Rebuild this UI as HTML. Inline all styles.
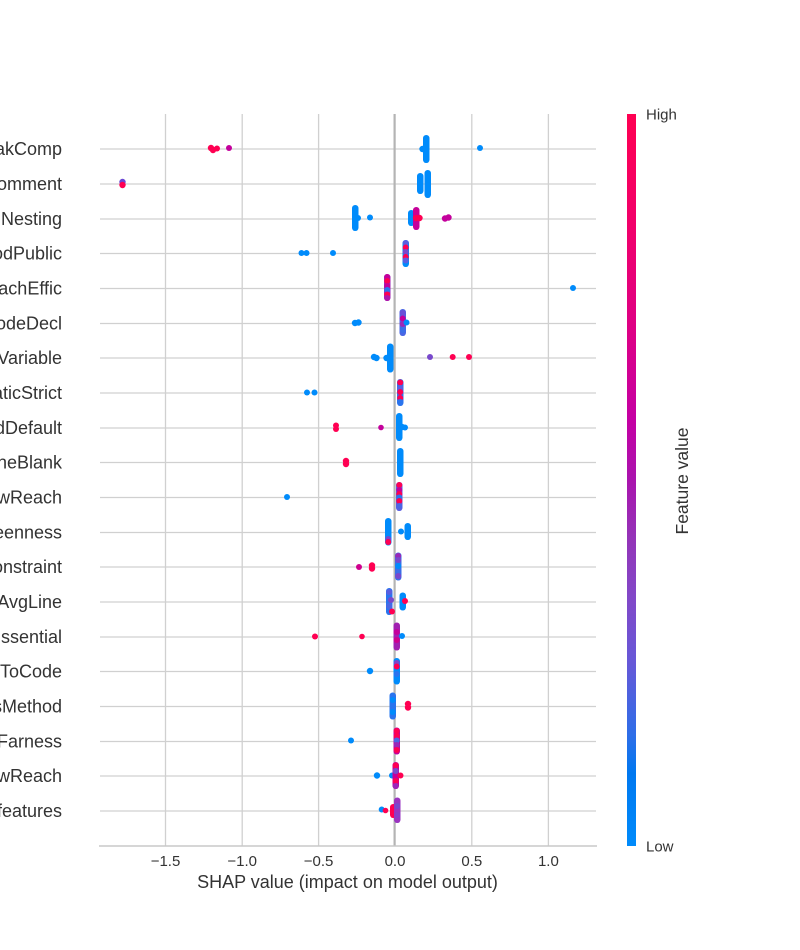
<!DOCTYPE html>
<html><head><meta charset="utf-8"><style>
html,body{margin:0;padding:0;background:#fff;}
svg{display:block;}
text{font-family:"Liberation Sans",Arial,sans-serif;fill:#333;}
</style></head><body>
<svg width="800" height="950" viewBox="0 0 800 950" xmlns="http://www.w3.org/2000/svg">
<defs>
<linearGradient id="cb" x1="0" y1="0" x2="0" y2="1">
<stop offset="0" stop-color="#ff0052"/>
<stop offset="0.15" stop-color="#f2006a"/>
<stop offset="0.3" stop-color="#dd0086"/>
<stop offset="0.42" stop-color="#c400a4"/>
<stop offset="0.5" stop-color="#aa14ae"/>
<stop offset="0.58" stop-color="#9434b8"/>
<stop offset="0.66" stop-color="#8248c8"/>
<stop offset="0.75" stop-color="#6658d8"/>
<stop offset="0.85" stop-color="#2d6ee8"/>
<stop offset="0.9" stop-color="#0078f0"/>
<stop offset="1" stop-color="#008bfb"/>
</linearGradient>
</defs>
<!-- vertical gridlines -->
<g stroke="#d0d0d0" stroke-width="1.3">
<line x1="165.5" y1="114" x2="165.5" y2="846"/>
<line x1="242.2" y1="114" x2="242.2" y2="846"/>
<line x1="318.6" y1="114" x2="318.6" y2="846"/>
<line x1="471.8" y1="114" x2="471.8" y2="846"/>
<line x1="548.4" y1="114" x2="548.4" y2="846"/>
</g>
<!-- horizontal row lines -->
<g stroke="#d0d0d0" stroke-width="1.3">
<line x1="100" y1="149" x2="596" y2="149"/>
<line x1="100" y1="184" x2="596" y2="184"/>
<line x1="100" y1="219" x2="596" y2="219"/>
<line x1="100" y1="253.5" x2="596" y2="253.5"/>
<line x1="100" y1="288.5" x2="596" y2="288.5"/>
<line x1="100" y1="323.5" x2="596" y2="323.5"/>
<line x1="100" y1="358" x2="596" y2="358"/>
<line x1="100" y1="393" x2="596" y2="393"/>
<line x1="100" y1="428" x2="596" y2="428"/>
<line x1="100" y1="462.5" x2="596" y2="462.5"/>
<line x1="100" y1="497.5" x2="596" y2="497.5"/>
<line x1="100" y1="532.5" x2="596" y2="532.5"/>
<line x1="100" y1="567" x2="596" y2="567"/>
<line x1="100" y1="602" x2="596" y2="602"/>
<line x1="100" y1="637" x2="596" y2="637"/>
<line x1="100" y1="671.5" x2="596" y2="671.5"/>
<line x1="100" y1="706.5" x2="596" y2="706.5"/>
<line x1="100" y1="741.5" x2="596" y2="741.5"/>
<line x1="100" y1="776" x2="596" y2="776"/>
<line x1="100" y1="811" x2="596" y2="811"/>
</g>
<!-- zero line -->
<line x1="394.6" y1="114" x2="394.6" y2="846" stroke="#b4b4b4" stroke-width="2.2"/>
<!-- bottom axis -->
<line x1="99" y1="846" x2="597" y2="846" stroke="#c8c8c8" stroke-width="1.6"/>

<!-- dots -->
<g>
<!-- row 0 -->
<circle cx="211" cy="148" r="3.2" fill="#ff0052"/>
<circle cx="213" cy="150" r="3.2" fill="#ff0052"/>
<circle cx="217" cy="148.5" r="3" fill="#ff0052"/>
<circle cx="229" cy="148" r="3" fill="#c4009c"/>
<rect x="423" y="135" width="6.5" height="28" rx="3.2" fill="#008bfb"/>
<circle cx="422.5" cy="149" r="3.2" fill="#008bfb"/>
<circle cx="480" cy="148" r="3" fill="#008bfb"/>
<!-- row 1 -->
<circle cx="122.5" cy="182" r="3.2" fill="#6a48d4"/>
<circle cx="122.5" cy="185" r="3.2" fill="#ff0052"/>
<rect x="417" y="173" width="6.5" height="21" rx="3.2" fill="#008bfb"/>
<rect x="424.5" y="170" width="6.5" height="28" rx="3.2" fill="#008bfb"/>
<!-- row 2 -->
<rect x="352" y="205" width="6.5" height="26" rx="3.2" fill="#008bfb"/>
<circle cx="358" cy="218" r="3" fill="#008bfb"/>
<circle cx="370" cy="217.5" r="3" fill="#008bfb"/>
<rect x="408" y="210" width="6.5" height="16" rx="3.2" fill="#008bfb"/>
<rect x="413" y="207" width="6.5" height="23" rx="3.2" fill="#c4009c"/>
<circle cx="416" cy="218" r="3.2" fill="#ff0052"/>
<circle cx="419.5" cy="218" r="3.2" fill="#ff0052"/>
<circle cx="416" cy="212" r="3" fill="#d0008e"/>
<circle cx="445" cy="218.5" r="3.2" fill="#c4009c"/>
<circle cx="448.5" cy="217.5" r="3.2" fill="#c4009c"/>
<!-- row 3 -->
<circle cx="301.5" cy="253" r="3" fill="#008bfb"/>
<circle cx="306.5" cy="253" r="3" fill="#008bfb"/>
<circle cx="333" cy="253" r="3" fill="#008bfb"/>
<rect x="402.5" y="240" width="6.5" height="27" rx="3.2" fill="#008bfb"/>
<circle cx="405.7" cy="243" r="3" fill="#5a5ee0"/>
<circle cx="405.7" cy="247.5" r="3" fill="#ff0052"/>
<circle cx="405.7" cy="252" r="3" fill="#7848cc"/>
<circle cx="405.7" cy="257" r="3" fill="#ff0052"/>
<circle cx="405.7" cy="260.5" r="3" fill="#5a5ee0"/>
<!-- row 4 -->
<rect x="384" y="274" width="6.5" height="27" rx="3.2" fill="#9a28b8"/>
<circle cx="387.2" cy="277" r="3" fill="#c4009c"/>
<circle cx="387.2" cy="281" r="3" fill="#ff0052"/>
<circle cx="387.2" cy="286" r="3" fill="#c4009c"/>
<circle cx="387.2" cy="290" r="3" fill="#2a74ee"/>
<circle cx="387.2" cy="294.5" r="3" fill="#ff0052"/>
<circle cx="387.2" cy="298" r="3" fill="#b014aa"/>
<circle cx="573" cy="288" r="3" fill="#008bfb"/>
<!-- row 5 -->
<circle cx="355" cy="323" r="3.2" fill="#008bfb"/>
<circle cx="358.5" cy="322.5" r="3.2" fill="#008bfb"/>
<rect x="399.5" y="309" width="6.5" height="27" rx="3.2" fill="#4a66e4"/>
<circle cx="402.7" cy="313" r="3" fill="#6a50d8"/>
<circle cx="402.7" cy="318.5" r="3" fill="#c4009c"/>
<circle cx="402.7" cy="324" r="3" fill="#9a28b8"/>
<circle cx="406.5" cy="322.5" r="3" fill="#008bfb"/>
<circle cx="402.7" cy="330" r="3" fill="#3a6ee8"/>
<!-- row 6 -->
<circle cx="374" cy="357" r="3.2" fill="#008bfb"/>
<circle cx="376.5" cy="358" r="3.2" fill="#008bfb"/>
<circle cx="386.5" cy="358" r="3.2" fill="#008bfb"/>
<rect x="387" y="343.5" width="6.5" height="29" rx="3.2" fill="#008bfb"/>
<circle cx="430" cy="357" r="3" fill="#7848cc"/>
<circle cx="452.7" cy="357" r="3" fill="#ff0052"/>
<circle cx="469" cy="357" r="3" fill="#ff0052"/>
<!-- row 7 -->
<circle cx="307" cy="392.5" r="3" fill="#008bfb"/>
<circle cx="314.5" cy="392.5" r="3" fill="#008bfb"/>
<rect x="397" y="379" width="6.5" height="27" rx="3.2" fill="#2a74ee"/>
<circle cx="400.2" cy="382.5" r="3" fill="#ff0052"/>
<circle cx="400.2" cy="388" r="3" fill="#5a5ee0"/>
<circle cx="400.2" cy="392" r="3" fill="#ff0052"/>
<circle cx="400.2" cy="398" r="3" fill="#ff0052"/>
<circle cx="400.2" cy="402" r="3" fill="#2a74ee"/>
<!-- row 8 -->
<circle cx="336" cy="425.5" r="3" fill="#ff0052"/>
<circle cx="336" cy="429" r="3" fill="#ff0052"/>
<circle cx="381" cy="427.5" r="2.8" fill="#c4009c"/>
<rect x="396" y="413" width="6.5" height="28" rx="3.2" fill="#008bfb"/>
<circle cx="402" cy="427" r="3.2" fill="#008bfb"/>
<circle cx="405" cy="427.5" r="3" fill="#008bfb"/>
<!-- row 9 -->
<circle cx="346" cy="461" r="3.2" fill="#ff0052"/>
<circle cx="346" cy="464" r="3.2" fill="#ff0052"/>
<rect x="397" y="448" width="6.5" height="29" rx="3.2" fill="#008bfb"/>
<!-- row 10 -->
<circle cx="287" cy="497" r="3" fill="#008bfb"/>
<rect x="396" y="482" width="6.5" height="29" rx="3.2" fill="#5a5ee0"/>
<circle cx="399.3" cy="485" r="3" fill="#ff0052"/>
<circle cx="399.3" cy="490" r="3" fill="#c4009c"/>
<circle cx="399.3" cy="494" r="3" fill="#ff0052"/>
<circle cx="399.3" cy="497.5" r="3" fill="#2a74ee"/>
<circle cx="399.3" cy="501" r="3" fill="#ff0052"/>
<circle cx="399.3" cy="506" r="3" fill="#4a66e4"/>
<!-- row 11 -->
<rect x="385" y="518" width="6.5" height="27.5" rx="3.2" fill="#008bfb"/>
<circle cx="388.2" cy="539" r="3" fill="#7848cc"/>
<circle cx="388.2" cy="542" r="3" fill="#ff0052"/>
<circle cx="401" cy="531.5" r="3" fill="#008bfb"/>
<rect x="404.5" y="523" width="6.5" height="17" rx="3.2" fill="#008bfb"/>
<!-- row 12 -->
<circle cx="359" cy="567" r="3" fill="#d0008e"/>
<circle cx="372" cy="565.5" r="3.2" fill="#ff0052"/>
<circle cx="372" cy="568.5" r="3.2" fill="#ff0052"/>
<rect x="395" y="552.5" width="6.5" height="28" rx="3.2" fill="#3a6ee8"/>
<circle cx="398.2" cy="556" r="3" fill="#9a28b8"/>
<circle cx="398.2" cy="560" r="3" fill="#7848cc"/>
<circle cx="398.2" cy="566" r="3" fill="#008bfb"/>
<circle cx="398.2" cy="576" r="3" fill="#7848cc"/>
<!-- row 13 -->
<rect x="386" y="588" width="6.5" height="27" rx="3.2" fill="#2a74ee"/>
<circle cx="389.2" cy="592" r="3" fill="#5a5ee0"/>
<circle cx="391" cy="600" r="3" fill="#7848cc"/>
<circle cx="389.2" cy="606" r="3" fill="#4a66e4"/>
<circle cx="392" cy="611.5" r="3" fill="#ff0052"/>
<rect x="399.5" y="592.5" width="6.5" height="18" rx="3.2" fill="#008bfb"/>
<circle cx="405" cy="601" r="3" fill="#ff0052"/>
<!-- row 14 -->
<circle cx="315" cy="636.5" r="3" fill="#ff0052"/>
<circle cx="362" cy="636.5" r="2.8" fill="#ff0052"/>
<rect x="393.5" y="622.5" width="6.5" height="28" rx="3.2" fill="#a020b0"/>
<circle cx="396.7" cy="632" r="3" fill="#c4009c"/>
<circle cx="396.7" cy="640" r="3" fill="#d0008e"/>
<circle cx="402" cy="636" r="3" fill="#008bfb"/>
<!-- row 15 -->
<circle cx="370" cy="671" r="3.2" fill="#008bfb"/>
<rect x="393.5" y="658" width="6.5" height="26.5" rx="3.2" fill="#008bfb"/>
<circle cx="396.7" cy="663" r="3" fill="#7848cc"/>
<circle cx="396.7" cy="666.5" r="3" fill="#ff0052"/>
<circle cx="396.7" cy="674" r="3" fill="#2a74ee"/>
<!-- row 16 -->
<rect x="389.5" y="692.5" width="6.5" height="27" rx="3.2" fill="#2a74ee"/>
<circle cx="392.7" cy="700" r="3" fill="#008bfb"/>
<circle cx="392.7" cy="712" r="3" fill="#008bfb"/>
<circle cx="408" cy="704" r="3.2" fill="#ff0052"/>
<circle cx="408" cy="707.5" r="3.2" fill="#ff0052"/>
<!-- row 17 -->
<circle cx="351" cy="740.5" r="3" fill="#008bfb"/>
<rect x="393.5" y="727.5" width="6.5" height="27" rx="3.2" fill="#c4009c"/>
<circle cx="396.7" cy="731" r="3" fill="#ff0052"/>
<circle cx="396.7" cy="736" r="3" fill="#ff0052"/>
<circle cx="396.7" cy="740.5" r="3" fill="#4a66e4"/>
<circle cx="396.7" cy="745" r="3" fill="#9a28b8"/>
<circle cx="396.7" cy="750" r="3" fill="#ff0052"/>
<!-- row 18 -->
<circle cx="377" cy="775.5" r="3.2" fill="#008bfb"/>
<circle cx="392" cy="775.5" r="3" fill="#008bfb"/>
<rect x="392.5" y="762" width="6.5" height="27" rx="3.2" fill="#c4009c"/>
<circle cx="395.7" cy="765.5" r="3" fill="#ff0052"/>
<circle cx="395.7" cy="771" r="3" fill="#7848cc"/>
<circle cx="400.5" cy="775.5" r="3" fill="#ff0052"/>
<circle cx="395.7" cy="781" r="3" fill="#ff0052"/>
<circle cx="395.7" cy="786" r="3" fill="#9a28b8"/>
<!-- row 19 -->
<circle cx="381.7" cy="809.5" r="3" fill="#008bfb"/>
<circle cx="385.5" cy="810.5" r="2.8" fill="#ff0052"/>
<rect x="390" y="804" width="6.5" height="14" rx="3.2" fill="#ff0052"/>
<rect x="394" y="797.5" width="6.5" height="25.5" rx="3.2" fill="#9a34c0"/>
<circle cx="397.2" cy="806" r="3" fill="#7848cc"/>
<circle cx="397.2" cy="815" r="3" fill="#8a3cc8"/>
</g>

<!-- y labels -->
<g font-size="18" text-anchor="end">
<text x="62" y="155">akComp</text>
<text x="62" y="190">omment</text>
<text x="62" y="225">Nesting</text>
<text x="62" y="259.5">odPublic</text>
<text x="62" y="294.5">achEffic</text>
<text x="62" y="329.5">odeDecl</text>
<text x="62" y="364">Variable</text>
<text x="62" y="399">aticStrict</text>
<text x="62" y="434">dDefault</text>
<text x="62" y="468.5">neBlank</text>
<text x="62" y="503.5">wReach</text>
<text x="62" y="538.5">eenness</text>
<text x="62" y="573">onstraint</text>
<text x="62" y="608">AvgLine</text>
<text x="62" y="643">ssential</text>
<text x="62" y="677.5">ToCode</text>
<text x="62" y="712.5">sMethod</text>
<text x="62" y="747.5">Farness</text>
<text x="62" y="782">wReach</text>
<text x="62" y="817">features</text>
</g>

<!-- x tick labels -->
<g font-size="15" text-anchor="middle">
<text x="165.5" y="866">−1.5</text>
<text x="242.2" y="866">−1.0</text>
<text x="318.6" y="866">−0.5</text>
<text x="395" y="866">0.0</text>
<text x="471.8" y="866">0.5</text>
<text x="548.4" y="866">1.0</text>
</g>
<text x="347.5" y="888" font-size="18" text-anchor="middle">SHAP value (impact on model output)</text>

<!-- colorbar -->
<rect x="627" y="114" width="9" height="732" fill="url(#cb)"/>
<text x="646" y="119.5" font-size="15">High</text>
<text x="646" y="851.5" font-size="15">Low</text>
<text transform="translate(688,481) rotate(-90)" font-size="17.5" text-anchor="middle">Feature value</text>
</svg>
</body></html>
